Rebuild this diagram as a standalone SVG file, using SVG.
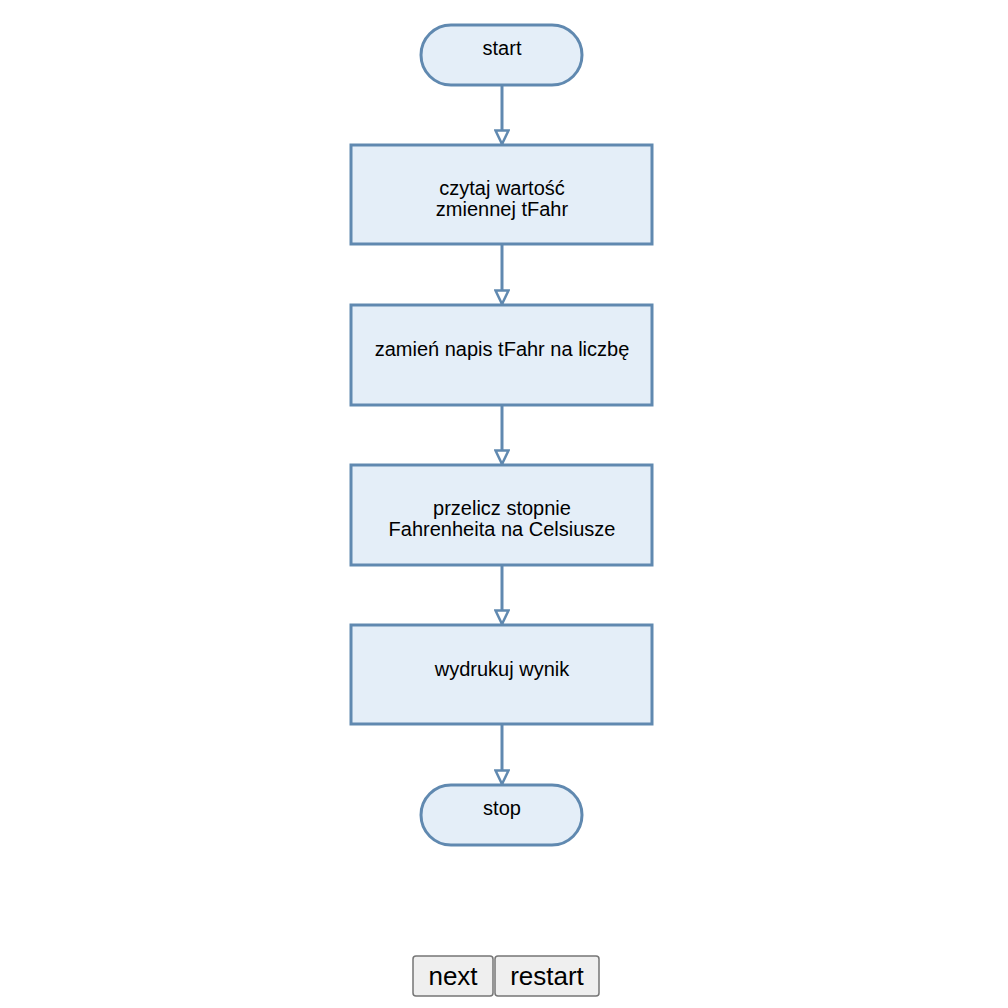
<svg xmlns="http://www.w3.org/2000/svg" width="1008" height="1008" viewBox="0 0 1008 1008">
<style>
.n{fill:#e4eef8;stroke:#6089b0;stroke-width:3}
.t{font-family:"Liberation Sans",Arial,sans-serif;font-size:20px;fill:#000;text-anchor:middle}
.e{stroke:#6089b0;stroke-width:3;fill:none;marker-end:url(#a)}
.b{fill:#efefef;stroke:#767676;stroke-width:1.5}
.bt{font-family:"Liberation Sans",Arial,sans-serif;font-size:26px;fill:#000;text-anchor:middle}
</style>
<defs>
<marker id="a" markerWidth="18" markerHeight="16" refX="15" refY="8" orient="auto" markerUnits="userSpaceOnUse">
<path d="M1.5,1.5 L15,8 L1.5,14.5 Z" fill="#fff" stroke="#6089b0" stroke-width="2.5"/>
</marker>
</defs>
<rect width="1008" height="1008" fill="#fff"/>
<g id="edges">
<line class="e" x1="502" y1="85" x2="502" y2="144"/>
<line class="e" x1="502" y1="245" x2="502" y2="304"/>
<line class="e" x1="502" y1="405" x2="502" y2="464"/>
<line class="e" x1="502" y1="565" x2="502" y2="624"/>
<line class="e" x1="502" y1="725" x2="502" y2="784"/>
</g>
<g id="start"><rect class="n" x="421" y="25" width="161" height="60" rx="30"/><text class="t" x="502" y="55">start</text></g>
<g id="read"><rect class="n" x="351" y="145" width="301" height="99"/><text class="t" x="502" y="195">czytaj wartość</text><text class="t" x="502" y="216">zmiennej tFahr</text></g>
<g id="convert"><rect class="n" x="351" y="305" width="301" height="100"/><text class="t" x="502" y="356">zamień napis tFahr na liczbę</text></g>
<g id="calc"><rect class="n" x="351" y="465" width="301" height="100"/><text class="t" x="502" y="515">przelicz stopnie</text><text class="t" x="502" y="536">Fahrenheita na Celsiusze</text></g>
<g id="print"><rect class="n" x="351" y="625" width="301" height="99"/><text class="t" x="502" y="676">wydrukuj wynik</text></g>
<g id="stop"><rect class="n" x="421" y="785" width="161" height="60" rx="30"/><text class="t" x="502" y="815">stop</text></g>
<g id="btn-next"><rect class="b" x="413" y="956" width="80" height="40" rx="3"/><text class="bt" x="453" y="985">next</text></g>
<g id="btn-restart"><rect class="b" x="495" y="956" width="104" height="40" rx="3"/><text class="bt" x="547" y="985">restart</text></g>
</svg>
